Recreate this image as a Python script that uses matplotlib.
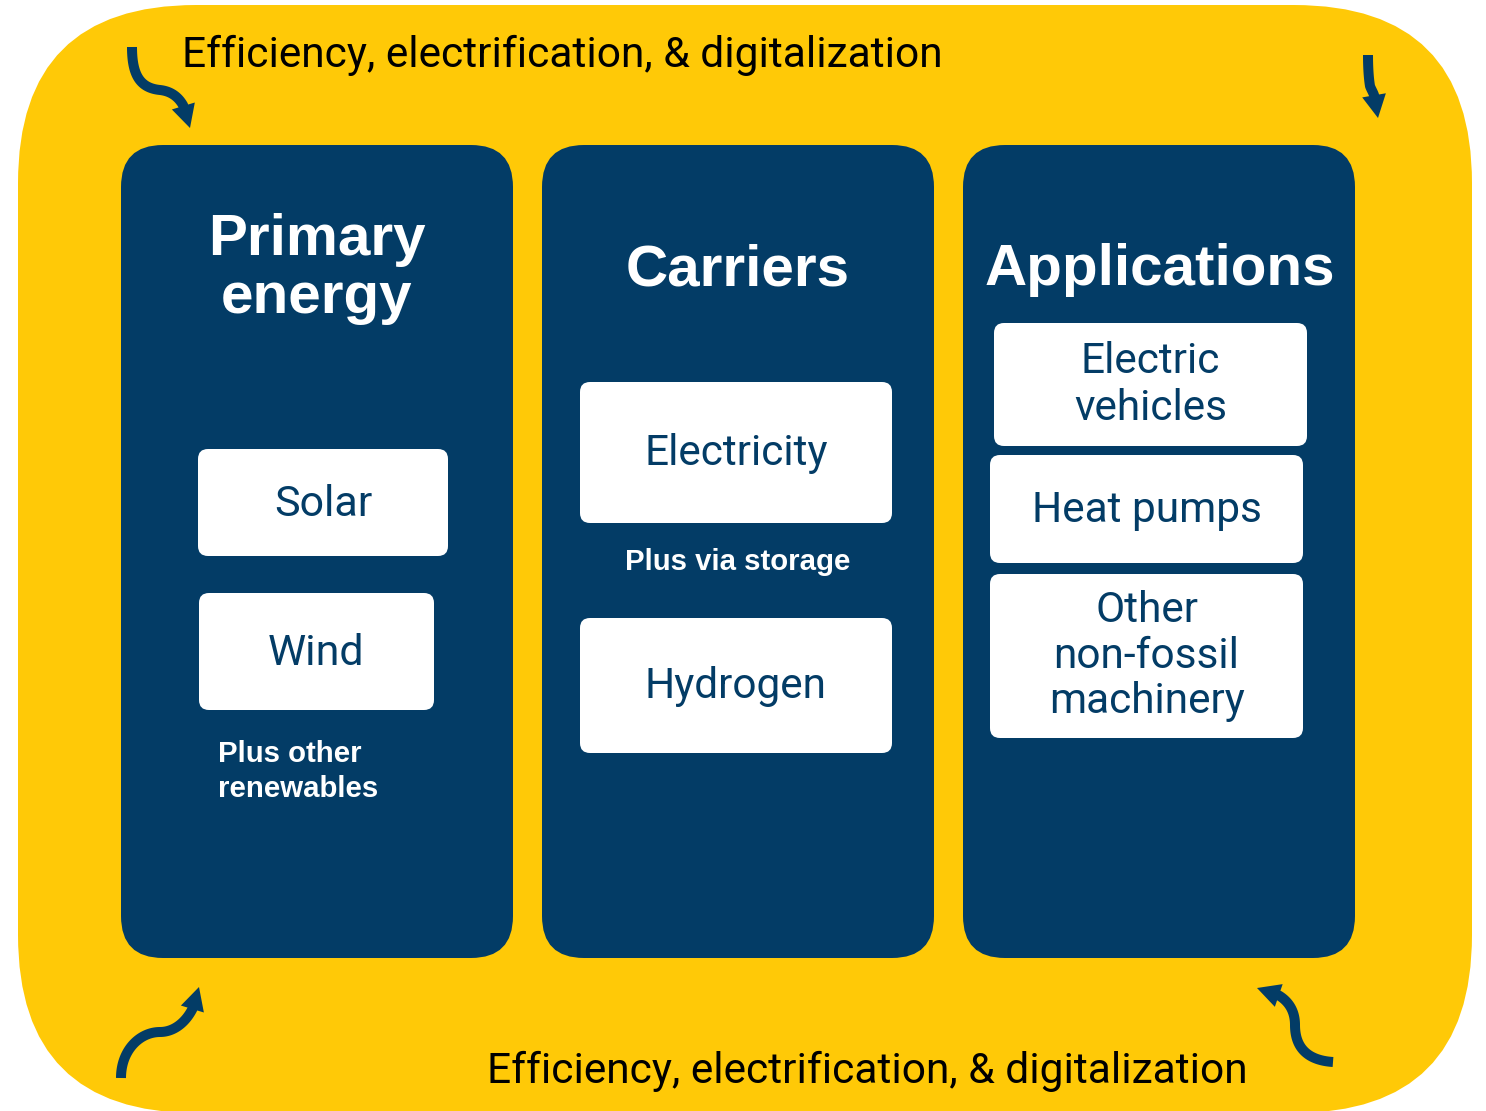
import matplotlib
matplotlib.use("Agg")
import numpy as np
import matplotlib.pyplot as plt
from matplotlib.patches import FancyBboxPatch, Polygon

# ---- content ----
theme_text = "Efficiency, electrification, & digitalization"
panel_titles = [["Primary", "energy"], ["Carriers"], ["Applications"]]
primary_items = [["Solar"], ["Wind"]]
carrier_items = [["Electricity"], ["Hydrogen"]]
application_items = [["Electric", "vehicles"], ["Heat pumps"], ["Other", "non-fossil", "machinery"]]
primary_note = ["Plus other", "renewables"]
carrier_note = ["Plus via storage"]

# ---- style ----
YELLOW = "#FFC907"
NAVY = "#033C66"
REG = ["Roboto", "DejaVu Sans"]
BOLD = ["Liberation Sans", "DejaVu Sans"]

W, H = 1486, 1111
fig = plt.figure(figsize=(W / 100, H / 100), dpi=100)
ax = fig.add_axes([0, 0, 1, 1])
ax.set_xlim(0, W)
ax.set_ylim(H, 0)
ax.axis("off")


def rbox(x0, y0, x1, y1, r, color, z):
    p = FancyBboxPatch((x0, y0), x1 - x0, y1 - y0,
                       boxstyle=f"round,pad=0,rounding_size={r}",
                       fc=color, ec="none", zorder=z)
    ax.add_patch(p)


def lines(x, baselines, texts, size, color, family, weight="normal", ha="center"):
    for yb, t in zip(baselines, texts):
        ax.text(x, yb, t, ha=ha, va="baseline", fontsize=size, color=color,
                family=family, fontweight=weight, zorder=10)


def bezier_chain(pts, n=60):
    pts = np.asarray(pts, float)
    out = [pts[:1]]
    t = np.linspace(0, 1, n)[1:, None]
    for i in range(0, len(pts) - 1, 3):
        p0, p1, p2, p3 = pts[i:i + 4]
        seg = ((1 - t) ** 3) * p0 + 3 * ((1 - t) ** 2) * t * p1 + 3 * (1 - t) * t ** 2 * p2 + t ** 3 * p3
        out.append(seg)
    return np.vstack(out)


def curvy_arrow(ctrl, head_len=23, head_half=12, lw=7.2):
    pts = bezier_chain(ctrl)
    tip = pts[-1]
    d = np.hypot(*(pts - tip).T)
    keep = d >= head_len
    idx = np.where(keep)[0][-1]
    base = pts[idx]
    u = (tip - base) / np.hypot(*(tip - base))
    base = tip - u * head_len
    nrm = np.array([-u[1], u[0]])
    line = np.vstack([pts[:idx + 1], base + u * 2])
    ax.plot(line[:, 0], line[:, 1], color=NAVY, lw=lw, solid_capstyle="butt",
            solid_joinstyle="round", zorder=5)
    ax.add_patch(Polygon([tip, base + nrm * head_half, base - nrm * head_half],
                         closed=True, fc=NAVY, ec="none", zorder=6))


# outer yellow frame
rbox(18, 5, 1472, 1113, 178, YELLOW, 1)

# dark panels
panels_x = [(121, 513), (542, 934), (963, 1355)]
for x0, x1 in panels_x:
    rbox(x0, 145, x1, 958, 42, NAVY, 2)

# titles
lines(317, [255, 313], panel_titles[0], 42, "white", BOLD, "bold")
lines(738, [285], panel_titles[1], 42, "white", BOLD, "bold")
lines(1160, [285], panel_titles[2], 42, "white", BOLD, "bold")

# primary energy boxes
prim_boxes = [(198, 449, 448, 556, [516]), (199, 593, 434, 710, [665])]
for (x0, y0, x1, y1, bl), t in zip(prim_boxes, primary_items):
    rbox(x0, y0, x1, y1, 10, "white", 3)
    lines((x0 + x1) / 2, bl, t, 31, NAVY, REG)
lines(218, [762, 797], primary_note, 21.2, "white", BOLD, "bold", ha="left")

# carriers boxes
car_boxes = [(580, 382, 892, 523, [465]), (580, 618, 892, 753, [698])]
for (x0, y0, x1, y1, bl), t in zip(car_boxes, carrier_items):
    rbox(x0, y0, x1, y1, 10, "white", 3)
    lines((x0 + x1) / 2, bl, t, 30.5, NAVY, REG)
lines(738, [570], carrier_note, 21.2, "white", BOLD, "bold")

# application boxes
app_boxes = [(994, 323, 1307, 446, [373, 420]),
             (990, 455, 1303, 563, [522]),
             (990, 574, 1303, 738, [622, 668, 713])]
for (x0, y0, x1, y1, bl), t in zip(app_boxes, application_items):
    rbox(x0, y0, x1, y1, 10, "white", 3)
    lines((x0 + x1) / 2, bl, t, 30.5, NAVY, REG)

# theme text
ax.text(182, 67, theme_text, ha="left", va="baseline", fontsize=30.6,
        color="black", family=REG, zorder=10)
ax.text(487, 1083, theme_text, ha="left", va="baseline", fontsize=30.6,
        color="black", family=REG, zorder=10)

# curvy arrows (cubic bezier chains)
arrow_ctrl = [
    [(132, 47), (132, 75), (140, 88), (160, 90), (178, 92), (187, 106), (190, 128)],
    [(1368, 55), (1368, 70), (1369, 80), (1370, 86), (1372, 92), (1377, 96), (1378, 118)],
    [(121, 1078), (121, 1050), (140, 1032), (160, 1032), (180, 1032), (196, 1012), (199, 987)],
    [(1333, 1062), (1302, 1060), (1295, 1042), (1295, 1025), (1295, 1005), (1282, 992), (1257, 988)],
]
for c in arrow_ctrl:
    curvy_arrow(c)

fig.savefig("out.png", dpi=100)
